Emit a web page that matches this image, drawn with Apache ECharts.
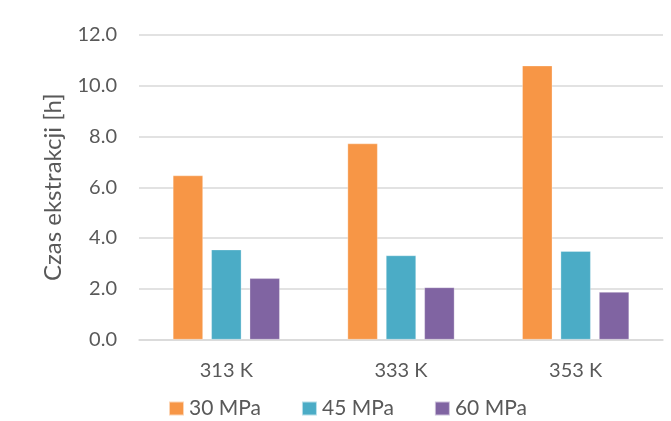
<!DOCTYPE html>
<html>
<head>
<meta charset="utf-8">
<script src="https://cdn.jsdelivr.net/npm/echarts@6/dist/echarts.min.js"></script>
<style>
  html, body { margin: 0; padding: 0; background: #fff; }
  #chart { width: 671px; height: 421px; }
</style>
</head>
<body>
<div id="chart"></div>
<script>
// Extraction time per temperature, one series per pressure
const categories = ['313 K', '333 K', '353 K'];
const seriesNames = ['30 MPa', '45 MPa', '60 MPa'];
const values30 = [6.46, 7.72, 10.79];
const values45 = [3.54, 3.31, 3.48];
const values60 = [2.41, 2.05, 1.87];
const yTicks = [0, 2, 4, 6, 8, 10, 12];

const colors = ['#F79646', '#4BACC6', '#8064A2'];
const textColor = '#595959';
const font = 'Lato, "Open Sans", sans-serif';

const chart = echarts.init(document.getElementById('chart'), null, { renderer: 'canvas' });

const makeSeries = (name, data, color) => ({
  name: name,
  type: 'bar',
  data: data,
  barWidth: 30,
  barGap: '28%',
  itemStyle: { color: color, borderColor: 'rgba(255,255,255,0.6)', borderWidth: 0.5 }
});

chart.setOption({
  animation: false,
  color: colors,
  grid: { left: 139, right: 8, top: 35, bottom: 81.5, containLabel: false },
  legend: {
    data: seriesNames,
    top: 398,
    left: 168,
    padding: 0,
    itemWidth: 15,
    itemHeight: 14,
    itemGap: 40,
    icon: 'rect',
    textStyle: { color: textColor, fontSize: 21, fontFamily: font, padding: [0, 0, 0, 0] }
  },
  xAxis: {
    type: 'category',
    data: categories,
    axisLine: { show: true, lineStyle: { color: '#D9D9D9', width: 1.5 } },
    axisTick: { show: false },
    axisLabel: { color: textColor, fontSize: 20, fontFamily: font, margin: 21 }
  },
  yAxis: {
    type: 'value',
    min: yTicks[0],
    max: yTicks[yTicks.length - 1],
    interval: 2,
    name: 'Czas ekstrakcji [h]',
    nameLocation: 'middle',
    nameGap: 74,
    nameMoveOverlap: false,
    nameTextStyle: { color: textColor, fontSize: 24, fontFamily: font },
    axisLine: { show: false },
    axisTick: { show: false },
    splitLine: { lineStyle: { color: '#D9D9D9', width: 1.5 } },
    axisLabel: {
      color: textColor, fontSize: 20, fontFamily: font, margin: 22,
      formatter: v => v.toFixed(1)
    }
  },
  series: [
    makeSeries(seriesNames[0], values30, colors[0]),
    makeSeries(seriesNames[1], values45, colors[1]),
    makeSeries(seriesNames[2], values60, colors[2])
  ]
});
</script>
</body>
</html>
